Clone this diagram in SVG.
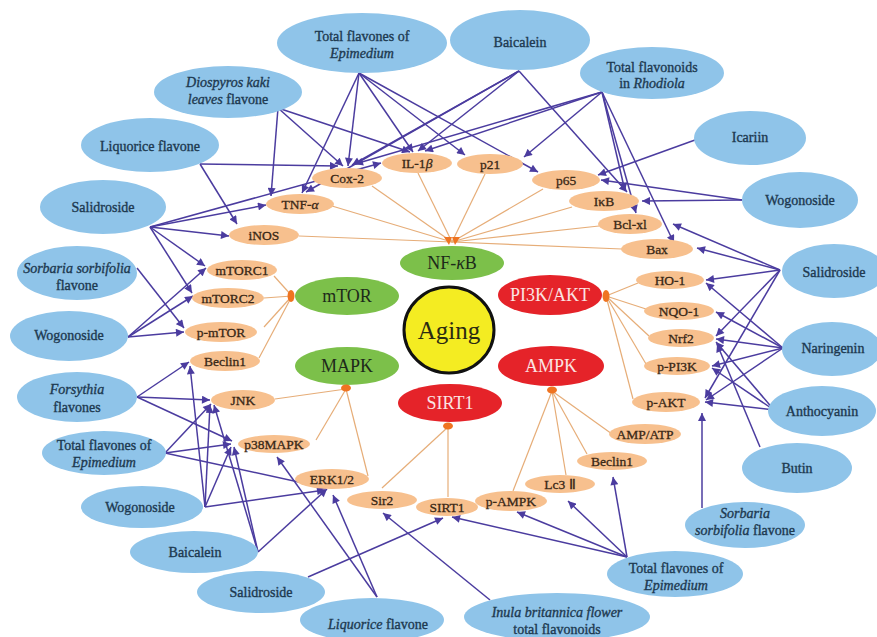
<svg xmlns="http://www.w3.org/2000/svg" width="877" height="637" viewBox="0 0 877 637">
<style>
.b{fill:#8fc4e9}
.o{fill:#f7c08e}
.bt{font-family:"Liberation Serif","Times New Roman",serif;font-size:14px;fill:#1d3950;stroke:#1d3950;stroke-width:0.35;text-anchor:middle}
.ot{font-family:"Liberation Serif","Times New Roman",serif;font-size:13.5px;fill:#3a2816;stroke:#3a2816;stroke-width:0.3;text-anchor:middle}
.ct{font-family:"Liberation Serif","Times New Roman",serif;font-size:18px;text-anchor:middle}
.ag{font-family:"Liberation Serif","Times New Roman",serif;font-size:25px;text-anchor:middle;fill:#2a2a12}
.i{font-style:italic}
.pl line{stroke:#4b3c9f;stroke-width:1.5;marker-end:url(#ah)}
.ol line{stroke:#e6ad78;stroke-width:1.2}
.hub{fill:#ef7421}
</style>
<defs>
<marker id="ah" viewBox="0 0 10 10" refX="10" refY="5" markerWidth="9" markerHeight="8" markerUnits="userSpaceOnUse" orient="auto">
<path d="M0,0 L10,5 L0,10 z" fill="#4b3c9f"/>
</marker>
</defs>
<rect width="877" height="637" fill="#ffffff"/>

<g id="connectors">
<g class="ol">
<line x1="452" y1="242" x2="332" y2="206"/>
<line x1="452" y1="242" x2="372" y2="186"/>
<line x1="452" y1="242" x2="418" y2="173"/>
<line x1="452" y1="242" x2="485" y2="174"/>
<line x1="452" y1="242" x2="543" y2="189"/>
<line x1="452" y1="242" x2="572" y2="207"/>
<line x1="452" y1="242" x2="599" y2="226"/>
<line x1="452" y1="242" x2="622" y2="249"/>
<line x1="452" y1="242" x2="299" y2="236"/>
<line x1="292" y1="296" x2="274" y2="276"/>
<line x1="292" y1="296" x2="264" y2="298"/>
<line x1="292" y1="296" x2="264" y2="327"/>
<line x1="292" y1="296" x2="259" y2="358"/>
<line x1="346" y1="389" x2="275" y2="399"/>
<line x1="346" y1="389" x2="316" y2="440"/>
<line x1="346" y1="389" x2="368" y2="476"/>
<line x1="448" y1="427" x2="382" y2="488"/>
<line x1="448" y1="427" x2="448" y2="497"/>
<line x1="552" y1="391" x2="513" y2="491"/>
<line x1="552" y1="391" x2="566" y2="475"/>
<line x1="552" y1="391" x2="587" y2="454"/>
<line x1="552" y1="391" x2="612" y2="434"/>
<line x1="606" y1="296" x2="638" y2="283"/>
<line x1="606" y1="296" x2="646" y2="309"/>
<line x1="606" y1="296" x2="649" y2="336"/>
<line x1="606" y1="296" x2="646" y2="364"/>
<line x1="606" y1="296" x2="633" y2="399"/>
</g>
<g class="pl">
<line x1="359" y1="73" x2="302" y2="193"/>
<line x1="359" y1="73" x2="348" y2="166"/>
<line x1="359" y1="73" x2="413" y2="152"/>
<line x1="359" y1="73" x2="465" y2="155"/>
<line x1="359" y1="73" x2="538" y2="172"/>
<line x1="278" y1="108" x2="271" y2="196"/>
<line x1="278" y1="108" x2="343" y2="166"/>
<line x1="278" y1="108" x2="410" y2="152"/>
<line x1="200" y1="164" x2="338" y2="166"/>
<line x1="200" y1="164" x2="237" y2="224"/>
<line x1="150" y1="227" x2="266" y2="205"/>
<line x1="150" y1="227" x2="381" y2="163"/>
<line x1="150" y1="227" x2="229" y2="236"/>
<line x1="150" y1="227" x2="205" y2="266"/>
<line x1="150" y1="227" x2="192" y2="293"/>
<line x1="519" y1="71" x2="306" y2="192"/>
<line x1="519" y1="71" x2="352" y2="165"/>
<line x1="519" y1="71" x2="418" y2="151"/>
<line x1="519" y1="71" x2="627" y2="192"/>
<line x1="602" y1="92" x2="355" y2="164"/>
<line x1="602" y1="92" x2="425" y2="151"/>
<line x1="602" y1="92" x2="524" y2="157"/>
<line x1="602" y1="92" x2="625" y2="191"/>
<line x1="602" y1="92" x2="636" y2="213"/>
<line x1="602" y1="92" x2="674" y2="243"/>
<line x1="695" y1="140" x2="598" y2="175"/>
<line x1="742" y1="200" x2="601" y2="180"/>
<line x1="742" y1="200" x2="642" y2="201"/>
<line x1="780" y1="270" x2="673" y2="224"/>
<line x1="780" y1="270" x2="697" y2="248"/>
<line x1="780" y1="270" x2="706" y2="280"/>
<line x1="780" y1="270" x2="716" y2="336"/>
<line x1="780" y1="270" x2="705" y2="398"/>
<line x1="783" y1="348" x2="706" y2="283"/>
<line x1="783" y1="348" x2="716" y2="312"/>
<line x1="783" y1="348" x2="716" y2="339"/>
<line x1="783" y1="348" x2="712" y2="366"/>
<line x1="783" y1="348" x2="706" y2="400"/>
<line x1="774" y1="410" x2="716" y2="342"/>
<line x1="774" y1="410" x2="712" y2="368"/>
<line x1="774" y1="410" x2="705" y2="402"/>
<line x1="760" y1="447" x2="717" y2="344"/>
<line x1="702" y1="508" x2="702" y2="413"/>
<line x1="627" y1="557" x2="452" y2="517"/>
<line x1="627" y1="557" x2="517" y2="512"/>
<line x1="627" y1="557" x2="568" y2="501"/>
<line x1="627" y1="557" x2="613" y2="477"/>
<line x1="490" y1="600" x2="383" y2="513"/>
<line x1="308" y1="577" x2="443" y2="518"/>
<line x1="377" y1="597" x2="277" y2="457"/>
<line x1="377" y1="597" x2="333" y2="495"/>
<line x1="258" y1="552" x2="214" y2="405"/>
<line x1="258" y1="552" x2="234" y2="447"/>
<line x1="258" y1="552" x2="327" y2="489"/>
<line x1="205" y1="507" x2="190" y2="366"/>
<line x1="205" y1="507" x2="210" y2="405"/>
<line x1="205" y1="507" x2="231" y2="447"/>
<line x1="205" y1="507" x2="325" y2="490"/>
<line x1="165" y1="453" x2="211" y2="404"/>
<line x1="165" y1="453" x2="231" y2="444"/>
<line x1="165" y1="453" x2="326" y2="488"/>
<line x1="137" y1="397" x2="189" y2="362"/>
<line x1="137" y1="397" x2="210" y2="400"/>
<line x1="137" y1="397" x2="232" y2="441"/>
<line x1="128" y1="337" x2="206" y2="268"/>
<line x1="128" y1="337" x2="193" y2="296"/>
<line x1="128" y1="337" x2="184" y2="332"/>
<line x1="137" y1="268" x2="184" y2="328"/>
</g>
</g>

<!-- central nodes -->
<g id="aging"><ellipse cx="449" cy="330" rx="45" ry="43" fill="#f4ec22" stroke="#111" stroke-width="3"/><text class="ag" x="449" y="339">Aging</text></g>
<g id="nfkb"><ellipse cx="452" cy="263" rx="52" ry="17" fill="#7cc04a"/><text class="ct" x="452" y="269" fill="#1d2a1a">NF-<tspan class="i">κ</tspan>B</text></g>
<g id="mtor"><ellipse cx="347" cy="296" rx="52" ry="19" fill="#7cc04a"/><text class="ct" x="347" y="302" fill="#1d2a1a">mTOR</text></g>
<g id="mapk"><ellipse cx="347" cy="366" rx="52" ry="19" fill="#7cc04a"/><text class="ct" x="347" y="372" fill="#1d2a1a">MAPK</text></g>
<g id="pi3k"><ellipse cx="550" cy="295" rx="52" ry="20" fill="#e52329"/><text class="ct" x="550" y="301" fill="#fbe3e3">PI3K/AKT</text></g>
<g id="ampk"><ellipse cx="551" cy="366" rx="53" ry="20" fill="#e52329"/><text class="ct" x="551" y="372" fill="#fbe3e3">AMPK</text></g>
<g id="sirt1c"><ellipse cx="450" cy="403" rx="52" ry="19" fill="#e52329"/><text class="ct" x="450" y="409" fill="#fbe3e3">SIRT1</text></g>

<!-- hubs -->
<g id="hubs">
<path class="hub" d="M444,237 L452,237 L449,245 z M452,237 L460,237 L455,245 z"/>
<ellipse class="hub" cx="291" cy="296" rx="3.5" ry="6"/>
<ellipse class="hub" cx="346" cy="388" rx="5" ry="3.5"/>
<ellipse class="hub" cx="448" cy="426" rx="5" ry="3.5"/>
<ellipse class="hub" cx="552" cy="390" rx="5" ry="3.5"/>
<ellipse class="hub" cx="606" cy="296" rx="3.5" ry="6"/>
</g>

<!-- orange nodes -->
<g id="cox2"><ellipse class="o" cx="347" cy="178" rx="35" ry="10"/><text class="ot" x="347" y="183">Cox-2</text></g>
<g id="il1b"><ellipse class="o" cx="417" cy="163" rx="35" ry="10"/><text class="ot" x="417" y="168">IL-1<tspan class="i">β</tspan></text></g>
<g id="p21"><ellipse class="o" cx="490" cy="164" rx="33" ry="10"/><text class="ot" x="490" y="169">p21</text></g>
<g id="p65"><ellipse class="o" cx="566" cy="180" rx="34" ry="10"/><text class="ot" x="566" y="185">p65</text></g>
<g id="ikb"><ellipse class="o" cx="604" cy="201" rx="35" ry="10"/><text class="ot" x="604" y="206">IκB</text></g>
<g id="bclxl"><ellipse class="o" cx="630" cy="224" rx="32" ry="10"/><text class="ot" x="630" y="229">Bcl-xl</text></g>
<g id="bax"><ellipse class="o" cx="657" cy="249" rx="36" ry="10"/><text class="ot" x="657" y="254">Bax</text></g>
<g id="tnfa"><ellipse class="o" cx="300" cy="204" rx="34" ry="10"/><text class="ot" x="300" y="209">TNF-<tspan class="i">α</tspan></text></g>
<g id="inos"><ellipse class="o" cx="264" cy="235" rx="35" ry="10"/><text class="ot" x="264" y="240">iNOS</text></g>
<g id="mtorc1"><ellipse class="o" cx="242" cy="270" rx="35" ry="10"/><text class="ot" x="242" y="275">mTORC1</text></g>
<g id="mtorc2"><ellipse class="o" cx="228" cy="298" rx="36" ry="10"/><text class="ot" x="228" y="303">mTORC2</text></g>
<g id="pmtor"><ellipse class="o" cx="221" cy="332" rx="36" ry="10"/><text class="ot" x="221" y="337">p-mTOR</text></g>
<g id="beclin1l"><ellipse class="o" cx="225" cy="361" rx="35" ry="10"/><text class="ot" x="225" y="366">Beclin1</text></g>
<g id="jnk"><ellipse class="o" cx="243" cy="400" rx="32" ry="10"/><text class="ot" x="243" y="405">JNK</text></g>
<g id="p38"><ellipse class="o" cx="274" cy="444" rx="36" ry="9"/><text class="ot" x="274" y="449">p38MAPK</text></g>
<g id="erk"><ellipse class="o" cx="332" cy="479" rx="37" ry="10"/><text class="ot" x="332" y="484">ERK1/2</text></g>
<g id="sir2"><ellipse class="o" cx="382" cy="500" rx="35" ry="9"/><text class="ot" x="382" y="505">Sir2</text></g>
<g id="sirt1"><ellipse class="o" cx="447" cy="507" rx="31" ry="9"/><text class="ot" x="447" y="512">SIRT1</text></g>
<g id="pampk"><ellipse class="o" cx="511" cy="501" rx="36" ry="10"/><text class="ot" x="511" y="506">p-AMPK</text></g>
<g id="lc3"><ellipse class="o" cx="560" cy="484" rx="35" ry="9"/><text class="ot" x="560" y="489">Lc3 Ⅱ</text></g>
<g id="beclin1r"><ellipse class="o" cx="612" cy="461" rx="35" ry="9"/><text class="ot" x="612" y="466">Beclin1</text></g>
<g id="ampatp"><ellipse class="o" cx="645" cy="434" rx="36" ry="10"/><text class="ot" x="645" y="439">AMP/ATP</text></g>
<g id="ho1"><ellipse class="o" cx="670" cy="280" rx="34" ry="9"/><text class="ot" x="670" y="285">HO-1</text></g>
<g id="nqo1"><ellipse class="o" cx="679" cy="311" rx="35" ry="9"/><text class="ot" x="679" y="316">NQO-1</text></g>
<g id="nrf2"><ellipse class="o" cx="681" cy="338" rx="33" ry="9"/><text class="ot" x="681" y="343">Nrf2</text></g>
<g id="ppi3k"><ellipse class="o" cx="677" cy="366" rx="33" ry="9"/><text class="ot" x="677" y="371">p-PI3K</text></g>
<g id="pakt"><ellipse class="o" cx="666" cy="402" rx="34" ry="10"/><text class="ot" x="666" y="407">p-AKT</text></g>

<!-- blue nodes -->
<g id="epimedium-top"><ellipse class="b" cx="362" cy="43" rx="85" ry="30"/><text class="bt" x="362" y="41">Total flavones of</text><text class="bt i" x="362" y="58">Epimedium</text></g>
<g id="baicalein-top"><ellipse class="b" cx="520" cy="40" rx="70" ry="30"/><text class="bt" x="520" y="47">Baicalein</text></g>
<g id="rhodiola"><ellipse class="b" cx="652" cy="73" rx="72" ry="26"/><text class="bt" x="652" y="72">Total flavonoids</text><text class="bt" x="652" y="88">in <tspan class="i">Rhodiola</tspan></text></g>
<g id="icariin"><ellipse class="b" cx="750" cy="138" rx="56" ry="27"/><text class="bt" x="750" y="142">Icariin</text></g>
<g id="wogonoside-r"><ellipse class="b" cx="800" cy="200" rx="58" ry="28"/><text class="bt" x="800" y="205">Wogonoside</text></g>
<g id="diospyros"><ellipse class="b" cx="228" cy="92" rx="74" ry="26"/><text class="bt i" x="228" y="87">Diospyros kaki</text><text class="bt" x="228" y="104"><tspan class="i">leaves</tspan> flavone</text></g>
<g id="liquorice-top"><ellipse class="b" cx="150" cy="145" rx="69" ry="27"/><text class="bt" x="150" y="151">Liquorice flavone</text></g>
<g id="salidroside-l"><ellipse class="b" cx="103" cy="207" rx="63" ry="27"/><text class="bt" x="103" y="212">Salidroside</text></g>
<g id="sorbaria-l"><ellipse class="b" cx="77" cy="273" rx="60" ry="27"/><text class="bt i" x="77" y="273">Sorbaria sorbifolia</text><text class="bt" x="77" y="290">flavone</text></g>
<g id="wogonoside-l"><ellipse class="b" cx="69" cy="336" rx="59" ry="25"/><text class="bt" x="69" y="340">Wogonoside</text></g>
<g id="forsythia"><ellipse class="b" cx="77" cy="397" rx="60" ry="25"/><text class="bt i" x="77" y="394">Forsythia</text><text class="bt" x="77" y="412">flavones</text></g>
<g id="epimedium-l"><ellipse class="b" cx="104" cy="453" rx="62" ry="22"/><text class="bt" x="104" y="450">Total flavones of</text><text class="bt i" x="104" y="467">Epimedium</text></g>
<g id="wogonoside-bl"><ellipse class="b" cx="142" cy="507" rx="61" ry="21"/><text class="bt" x="140" y="512">Wogonoside</text></g>
<g id="baicalein-bl"><ellipse class="b" cx="194" cy="552" rx="64" ry="21"/><text class="bt" x="195" y="557">Baicalein</text></g>
<g id="salidroside-b"><ellipse class="b" cx="261" cy="592" rx="64" ry="21"/><text class="bt" x="261" y="597">Salidroside</text></g>
<g id="liquorice-b"><ellipse class="b" cx="372" cy="620" rx="72" ry="22"/><text class="bt" x="378" y="629"><tspan class="i">Liquorice</tspan> flavone</text></g>
<g id="inula"><ellipse class="b" cx="557" cy="617" rx="93" ry="24"/><text class="bt i" x="557" y="617">Inula britannica flower</text><text class="bt" x="557" y="634">total flavonoids</text></g>
<g id="epimedium-br"><ellipse class="b" cx="675" cy="574" rx="68" ry="23"/><text class="bt" x="676" y="573">Total flavones of</text><text class="bt i" x="676" y="590">Epimedium</text></g>
<g id="sorbaria-r"><ellipse class="b" cx="745" cy="525" rx="60" ry="23"/><text class="bt i" x="745" y="518">Sorbaria</text><text class="bt" x="745" y="535"><tspan class="i">sorbifolia</tspan> flavone</text></g>
<g id="butin"><ellipse class="b" cx="797" cy="468" rx="55" ry="25"/><text class="bt" x="797" y="473">Butin</text></g>
<g id="anthocyanin"><ellipse class="b" cx="822" cy="411" rx="54" ry="25"/><text class="bt" x="822" y="416">Anthocyanin</text></g>
<g id="naringenin"><ellipse class="b" cx="832" cy="349" rx="50" ry="27"/><text class="bt" x="833" y="353">Naringenin</text></g>
<g id="salidroside-r"><ellipse class="b" cx="834" cy="271" rx="52" ry="27"/><text class="bt" x="834" y="277">Salidroside</text></g>
</svg>
